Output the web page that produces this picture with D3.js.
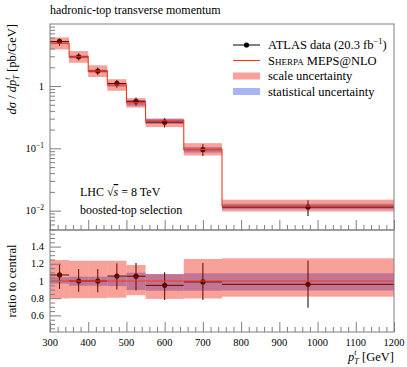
<!DOCTYPE html>
<html>
<head>
<meta charset="utf-8">
<script src="https://cdn.jsdelivr.net/npm/d3@7"></script>
<style>
  body { margin: 0; background: #fff; }
  svg text { font-family: "Liberation Serif", "DejaVu Serif", serif; fill: #000; }
</style>
</head>
<body>
<svg id="chart"></svg>
<script>
// bins in pT (GeV)
const binLo = [300, 350, 400, 450, 500, 550, 650, 750];
const binHi = [350, 400, 450, 500, 550, 650, 750, 1200];

// Sherpa MEPS@NLO central prediction (pb/GeV)
const mcValues = [4.85, 2.95, 1.74, 1.04, 0.54, 0.277, 0.0964, 0.01186];
// scale / stat uncertainty, relative to central
const scaleUp   = [1.244, 1.236, 1.236, 1.236, 1.186, 1.08, 1.256, 1.264];
const scaleDown = [0.797, 0.80, 0.80, 0.806, 0.835, 0.792, 0.797, 0.818];
const statUp    = [1.043, 1.05, 1.05, 1.05, 1.097, 1.08, 1.09, 1.09];
const statDown  = [0.97, 0.945, 0.945, 0.94, 0.895, 0.887, 0.887, 0.89];

// ATLAS data (pb/GeV), lower and upper ends of error bars
const dataValues = [5.19, 2.95, 1.74, 1.10, 0.57, 0.263, 0.0954, 0.0114];
const dataHigh   = [5.82, 3.36, 1.98, 1.253, 0.653, 0.305, 0.1166, 0.01466];
const dataLow    = [4.41, 2.58, 1.51, 0.936, 0.481, 0.216, 0.0752, 0.00818];

const xTicks = [300, 400, 500, 600, 700, 800, 900, 1000, 1100, 1200];
const ratioTicks = [0.6, 0.8, 1.0, 1.2, 1.4];
const logTicks = [0.01, 0.1, 1];

const W = 407, H = 367;
const pLeft = 50, pRight = 394, pTop = 24, pMid = 230, pBottom = 332;
const frameColor = "#7f7f7f";
const lineRed = "#f03a1e";
const scaleFill = "rgb(235,20,0)", scaleOpacity = 0.4;
const statFill = "#a8b4f4";

const svg = d3.select("#chart").attr("width", W).attr("height", H);

const x = d3.scaleLinear().domain([300, 1200]).range([pLeft, pRight]);
const y = d3.scaleLog().domain([0.00489, 9.9]).range([pMid, pTop]);
const yr = d3.scaleLinear().domain([0.407, 1.593]).range([pBottom, pMid]);

const bins = binLo.map((lo, i) => ({
  lo: lo, hi: binHi[i], mid: (lo + binHi[i]) / 2,
  mc: mcValues[i], sUp: scaleUp[i], sDn: scaleDown[i], tUp: statUp[i], tDn: statDown[i],
  d: dataValues[i], dHi: dataHigh[i], dLo: dataLow[i]
}));

// clip paths
const defs = svg.append("defs");
defs.append("clipPath").attr("id", "clipTop").append("rect")
  .attr("x", pLeft).attr("y", pTop).attr("width", pRight - pLeft).attr("height", pMid - pTop);
defs.append("clipPath").attr("id", "clipRatio").append("rect")
  .attr("x", pLeft).attr("y", pMid).attr("width", pRight - pLeft).attr("height", pBottom - pMid);

const minorX = d3.range(300, 1201, 20).filter(v => v % 100 !== 0);

function xTicksAt(yPos) {
  const g = svg.append("g").attr("transform", "translate(0," + yPos + ")");
  g.append("g").call(d3.axisBottom(x).tickValues(minorX).tickSize(-5).tickFormat(""));
  g.append("g").call(d3.axisBottom(x).tickValues(xTicks).tickSize(-10).tickFormat(""));
  g.selectAll(".domain").remove();
  g.selectAll("line").attr("stroke", frameColor);
  return g;
}

// ---------- upper panel ----------
const gTop = svg.append("g").attr("clip-path", "url(#clipTop)");

gTop.append("g").selectAll("rect").data(bins).join("rect")
  .attr("x", d => x(d.lo)).attr("width", d => x(d.hi) - x(d.lo))
  .attr("y", d => y(d.mc * d.tUp)).attr("height", d => y(d.mc * d.tDn) - y(d.mc * d.tUp))
  .attr("fill", statFill);

function drawData(g, yScale, val, hi, lo) {
  g.append("g").selectAll("line").data(bins).join("line")
    .attr("x1", d => x(d.lo)).attr("x2", d => x(d.hi))
    .attr("y1", d => yScale(val(d))).attr("y2", d => yScale(val(d)))
    .attr("stroke", "#000").attr("stroke-width", 1);
  g.append("g").selectAll("line").data(bins).join("line")
    .attr("x1", d => x(d.mid)).attr("x2", d => x(d.mid))
    .attr("y1", d => yScale(hi(d))).attr("y2", d => yScale(lo(d)))
    .attr("stroke", "#000").attr("stroke-width", 1);
  g.append("g").selectAll("circle").data(bins).join("circle")
    .attr("cx", d => x(d.mid)).attr("cy", d => yScale(val(d))).attr("r", 2.6)
    .attr("fill", "#000");
}
drawData(gTop.append("g"), y, d => d.d, d => d.dHi, d => d.dLo);

gTop.append("g").selectAll("rect").data(bins).join("rect")
  .attr("x", d => x(d.lo)).attr("width", d => x(d.hi) - x(d.lo))
  .attr("y", d => y(d.mc * d.sUp)).attr("height", d => y(d.mc * d.sDn) - y(d.mc * d.sUp))
  .attr("fill", scaleFill).attr("fill-opacity", scaleOpacity);

const step = [];
bins.forEach(d => { step.push([d.lo, d.mc]); step.push([d.hi, d.mc]); });
gTop.append("path")
  .datum(step)
  .attr("fill", "none").attr("stroke", lineRed).attr("stroke-width", 1.1)
  .attr("d", d3.line().x(p => x(p[0])).y(p => y(p[1])));

// ---------- ratio panel ----------
const gR = svg.append("g").attr("clip-path", "url(#clipRatio)");

gR.append("g").selectAll("rect").data(bins).join("rect")
  .attr("x", d => x(d.lo)).attr("width", d => x(d.hi) - x(d.lo))
  .attr("y", d => yr(d.tUp)).attr("height", d => yr(d.tDn) - yr(d.tUp))
  .attr("fill", statFill);

drawData(gR.append("g"), yr, d => d.d / d.mc, d => d.dHi / d.mc, d => d.dLo / d.mc);

gR.append("g").selectAll("rect").data(bins).join("rect")
  .attr("x", d => x(d.lo)).attr("width", d => x(d.hi) - x(d.lo))
  .attr("y", d => yr(d.sUp)).attr("height", d => yr(d.sDn) - yr(d.sUp))
  .attr("fill", scaleFill).attr("fill-opacity", scaleOpacity);

gR.append("line")
  .attr("x1", x(300)).attr("x2", x(1200)).attr("y1", yr(1)).attr("y2", yr(1))
  .attr("stroke", lineRed).attr("stroke-width", 1.1);

// ---------- axes ----------
xTicksAt(pMid);
xTicksAt(pBottom);

svg.append("g").selectAll("text").data(xTicks).join("text")
  .attr("x", d => x(d)).attr("y", pBottom + 14)
  .attr("text-anchor", "middle").attr("font-size", "10.5px")
  .text(d => d);

// log y axis
const minorLog = [];
[0.001, 0.01, 0.1, 1].forEach(dec => {
  for (let k = 2; k <= 9; k++) {
    const v = dec * k;
    if (v >= 0.00489 && v <= 9.9) minorLog.push(v);
  }
});
const gy = svg.append("g").attr("transform", "translate(" + pLeft + ",0)");
gy.append("g").call(d3.axisLeft(y).tickValues(minorLog).tickSize(-5).tickFormat(""));
gy.append("g").call(d3.axisLeft(y).tickValues(logTicks).tickSize(-11).tickFormat(""));
gy.selectAll(".domain").remove();
gy.selectAll("line").attr("stroke", frameColor);

svg.append("g").selectAll("text").data(logTicks).join("text")
  .attr("x", pLeft - 6).attr("y", d => y(d) + 3.5)
  .attr("text-anchor", "end").attr("font-size", "10.5px")
  .each(function (d) {
    const t = d3.select(this);
    if (d === 1) { t.text("1"); return; }
    t.append("tspan").text("10");
    t.append("tspan").attr("font-size", "7.5px").attr("dy", -4)
      .text(d === 0.1 ? "\u22121" : "\u22122");
  });

// ratio y axis
const minorR = d3.range(0.45, 1.6, 0.05).map(v => +v.toFixed(2))
  .filter(v => !ratioTicks.some(t => Math.abs(t - v) < 1e-6));
const gyr = svg.append("g").attr("transform", "translate(" + pLeft + ",0)");
gyr.append("g").call(d3.axisLeft(yr).tickValues(minorR).tickSize(-5).tickFormat(""));
gyr.append("g").call(d3.axisLeft(yr).tickValues(ratioTicks).tickSize(-11).tickFormat(""));
gyr.selectAll(".domain").remove();
gyr.selectAll("line").attr("stroke", frameColor);

svg.append("g").selectAll("text").data(ratioTicks).join("text")
  .attr("x", pLeft - 6).attr("y", d => yr(d) + 3.5)
  .attr("text-anchor", "end").attr("font-size", "10.5px")
  .text(d => d === 1 ? "1" : d.toFixed(1));

// frames
[[pTop, pMid], [pMid, pBottom]].forEach(p => {
  svg.append("rect").attr("x", pLeft).attr("y", p[0])
    .attr("width", pRight - pLeft).attr("height", p[1] - p[0])
    .attr("fill", "none").attr("stroke", frameColor).attr("stroke-width", 1);
});

// ---------- texts ----------
svg.append("text").attr("x", pLeft).attr("y", 14)
  .attr("font-size", "12px").text("hadronic-top transverse momentum");

// p with subscript T and superscript t stacked
function ptSymbol(t) {
  t.append("tspan").attr("font-style", "italic").text("p");
  t.append("tspan").attr("font-style", "italic").attr("font-size", "8px").attr("dy", 3).text("T");
  t.append("tspan").attr("font-style", "italic").attr("font-size", "8px").attr("dx", -4.5).attr("dy", -9).text("t");
}

const yl = svg.append("text")
  .attr("transform", "translate(16," + pTop + ") rotate(-90)")
  .attr("text-anchor", "end").attr("font-size", "12.5px");
yl.append("tspan").attr("font-style", "italic").text("d\u03C3");
yl.append("tspan").text(" / ");
yl.append("tspan").attr("font-style", "italic").text("d");
ptSymbol(yl);
yl.append("tspan").attr("dy", 6).attr("dx", 2.5).text(" [pb/GeV]");

svg.append("text")
  .attr("transform", "translate(16," + yr(1) + ") rotate(-90)")
  .attr("text-anchor", "middle").attr("font-size", "12.5px")
  .text("ratio to central");

const xl = svg.append("text").attr("x", pRight).attr("y", 361)
  .attr("text-anchor", "end").attr("font-size", "12.5px");
ptSymbol(xl);
xl.append("tspan").attr("dy", 6).attr("dx", 2.5).text(" [GeV]");

const lhc = svg.append("text").attr("x", 80).attr("y", 196).attr("font-size", "12px");
lhc.append("tspan").text("LHC \u221A");
lhc.append("tspan").attr("font-style", "italic").style("text-decoration", "overline").text("s");
lhc.append("tspan").text(" = 8 TeV");
svg.append("text").attr("x", 80).attr("y", 214).attr("font-size", "12px")
  .text("boosted-top selection");

// ---------- legend ----------
const lg = svg.append("g");
const lx0 = 233, lx1 = 260, ltx = 268;
const rows = [45, 60.5, 76, 91.5];

lg.append("line").attr("x1", lx0).attr("x2", lx1).attr("y1", rows[0]).attr("y2", rows[0])
  .attr("stroke", "#000").attr("stroke-width", 1);
lg.append("circle").attr("cx", (lx0 + lx1) / 2).attr("cy", rows[0]).attr("r", 2.6).attr("fill", "#000");
lg.append("line").attr("x1", lx0).attr("x2", lx1).attr("y1", rows[1]).attr("y2", rows[1])
  .attr("stroke", lineRed).attr("stroke-width", 1.1);
lg.append("rect").attr("x", lx0).attr("width", lx1 - lx0).attr("y", rows[2] - 3.5).attr("height", 7)
  .attr("fill", scaleFill).attr("fill-opacity", scaleOpacity);
lg.append("rect").attr("x", lx0).attr("width", lx1 - lx0).attr("y", rows[3] - 3.5).attr("height", 7)
  .attr("fill", statFill);

const t0 = lg.append("text").attr("x", ltx).attr("y", rows[0] + 4).attr("font-size", "12.5px");
t0.append("tspan").text("ATLAS data (20.3 fb");
t0.append("tspan").attr("font-size", "8.5px").attr("dy", -5).text("\u22121");
t0.append("tspan").attr("dy", 5).text(")");
lg.append("text").attr("x", ltx).attr("y", rows[1] + 4).attr("font-size", "12.5px")
  .html('<tspan style="font-variant: small-caps">Sherpa</tspan> MEPS@NLO');
lg.append("text").attr("x", ltx).attr("y", rows[2] + 4).attr("font-size", "12.5px").text("scale uncertainty");
lg.append("text").attr("x", ltx).attr("y", rows[3] + 4).attr("font-size", "12.5px").text("statistical uncertainty");
</script>
</body>
</html>
